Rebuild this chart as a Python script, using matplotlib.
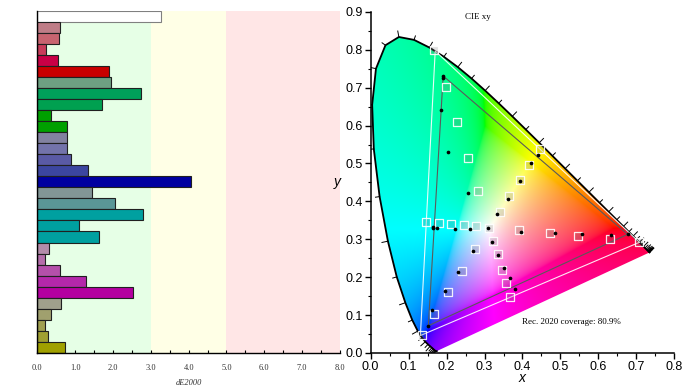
import numpy as np
import matplotlib
matplotlib.use('Agg')
import matplotlib.pyplot as plt
from matplotlib.patches import Polygon
from matplotlib.ticker import MultipleLocator, FormatStrFormatter

# ---------------- data ----------------
bar_values = [3.27, 0.61, 0.57, 0.23, 0.55, 1.89, 1.94, 2.74, 1.71, 0.36, 0.78,
              0.78, 0.79, 0.88, 1.34, 4.05, 1.44, 2.05, 2.79, 1.10, 1.62,
              0.32, 0.20, 0.60, 1.28, 2.53, 0.62, 0.36, 0.20, 0.29, 0.73]
bar_colors = ['#ffffff', '#bf7d87', '#c86470', '#c83c5a', '#c80046', '#c80000',
              '#6ea082', '#00a05a', '#00a050', '#00a000', '#00a000',
              '#8282a0', '#7373aa', '#5a5aa5', '#3c46a0', '#0000a0',
              '#829696', '#5a9696', '#00a0a0', '#00a0a0', '#00a0a0',
              '#b48caa', '#b46eaa', '#b450aa', '#b428aa', '#b400a0',
              '#a0a08c', '#a0a06e', '#a0a050', '#a0a032', '#a0a000']
zone_edges = [0.0, 3.0, 5.0, 8.0]
zone_colors = ['#e6ffe6', '#ffffe6', '#ffe6e6']
de_ticks = [0, 1, 2, 3, 4, 5, 6, 7, 8]

# CIE 1931 2deg spectral locus (5 nm)
wl = list(range(380, 705, 5))
locus_x = [0.1741, 0.1740, 0.1738, 0.1736, 0.1733, 0.1730, 0.1726, 0.1721, 0.1714, 0.1703,
           0.1689, 0.1669, 0.1644, 0.1611, 0.1566, 0.1510, 0.1440, 0.1355, 0.1241, 0.1096,
           0.0913, 0.0687, 0.0454, 0.0235, 0.0082, 0.0039, 0.0139, 0.0389, 0.0743, 0.1142,
           0.1547, 0.1929, 0.2296, 0.2658, 0.3016, 0.3373, 0.3731, 0.4087, 0.4441, 0.4788,
           0.5125, 0.5448, 0.5752, 0.6029, 0.6270, 0.6482, 0.6658, 0.6801, 0.6915, 0.7006,
           0.7079, 0.7140, 0.7190, 0.7230, 0.7260, 0.7283, 0.7300, 0.7311, 0.7320, 0.7327,
           0.7334, 0.7340, 0.7344, 0.7346, 0.7347]
locus_y = [0.0050, 0.0050, 0.0049, 0.0049, 0.0048, 0.0048, 0.0048, 0.0048, 0.0051, 0.0058,
           0.0069, 0.0086, 0.0109, 0.0138, 0.0177, 0.0227, 0.0297, 0.0399, 0.0578, 0.0868,
           0.1327, 0.2007, 0.2950, 0.4127, 0.5384, 0.6548, 0.7502, 0.8120, 0.8338, 0.8262,
           0.8059, 0.7816, 0.7543, 0.7243, 0.6923, 0.6589, 0.6245, 0.5896, 0.5547, 0.5202,
           0.4866, 0.4544, 0.4242, 0.3965, 0.3725, 0.3514, 0.3340, 0.3197, 0.3083, 0.2993,
           0.2920, 0.2859, 0.2809, 0.2770, 0.2740, 0.2717, 0.2700, 0.2689, 0.2680, 0.2673,
           0.2666, 0.2660, 0.2656, 0.2654, 0.2653]

rec2020_x = [0.708, 0.170, 0.131]
rec2020_y = [0.292, 0.797, 0.046]
display_x = [0.677, 0.191, 0.152]
display_y = [0.313, 0.731, 0.072]

target_x = [0.313, 0.391, 0.472, 0.547, 0.631, 0.707, 0.283, 0.256, 0.227, 0.198, 0.166,
            0.276, 0.240, 0.203, 0.167, 0.134, 0.277, 0.247, 0.212, 0.180, 0.146,
            0.323, 0.335, 0.346, 0.357, 0.368, 0.340, 0.364, 0.394, 0.418, 0.446]
target_y = [0.329, 0.324, 0.316, 0.309, 0.301, 0.292, 0.428, 0.515, 0.609, 0.703, 0.799,
            0.274, 0.216, 0.161, 0.103, 0.048, 0.335, 0.337, 0.340, 0.342, 0.346,
            0.296, 0.260, 0.219, 0.185, 0.149, 0.373, 0.414, 0.456, 0.497, 0.539]
meas_x = [0.308, 0.395, 0.486, 0.556, 0.633, 0.677, 0.257, 0.205, 0.185, 0.191, 0.191,
          0.269, 0.230, 0.196, 0.162, 0.152, 0.262, 0.223, 0.176, 0.165, 0.163,
          0.320, 0.336, 0.352, 0.366, 0.380, 0.334, 0.361, 0.393, 0.423, 0.441]
meas_y = [0.331, 0.320, 0.316, 0.313, 0.311, 0.313, 0.421, 0.530, 0.640, 0.725, 0.731,
          0.270, 0.215, 0.164, 0.113, 0.072, 0.326, 0.328, 0.329, 0.330, 0.333,
          0.294, 0.259, 0.225, 0.197, 0.170, 0.367, 0.406, 0.455, 0.500, 0.522]

# ---------------- figure ----------------
fig = plt.figure(figsize=(6.93, 3.90), dpi=100)
serif = ['Liberation Serif', 'DejaVu Serif']
sans = ['Liberation Sans', 'DejaVu Sans']

# ----- left: dE2000 bars -----
axl = fig.add_axes([0.0538, 0.0956, 0.4368, 0.8760])
n = len(bar_values)
for i in range(3):
    axl.axvspan(zone_edges[i], zone_edges[i + 1], color=zone_colors[i], lw=0, zorder=0)
ypos = np.arange(n)
edgec = ['#808080'] + ['#202020'] * (n - 1)
axl.barh(ypos, bar_values, height=1.0, color=bar_colors, edgecolor=edgec,
         linewidth=0.8, zorder=2)
axl.set_xlim(0, 8)
axl.set_ylim(n - 0.5, -0.5)
axl.set_yticks([])
axl.set_xticks(de_ticks)
axl.xaxis.set_major_formatter(FormatStrFormatter('%.1f'))
axl.xaxis.set_minor_locator(MultipleLocator(0.5))
axl.tick_params(axis='x', which='both', direction='in', length=2.5, width=0.8,
                labelsize=6, labelcolor='#333333', pad=8)
for lab in axl.get_xticklabels():
    lab.set_family(serif)
axl.spines['top'].set_visible(False)
axl.spines['right'].set_visible(False)
axl.spines['left'].set_linewidth(1.0)
axl.spines['bottom'].set_linewidth(1.0)
axl.set_xlabel('dE2000', family=serif, style='italic', fontsize=6, color='#333333',
               labelpad=5)

# ----- right: CIE xy -----
axr = fig.add_axes([0.5349, 0.0949, 0.4381, 0.8746])
axr.set_xlim(0, 0.8)
axr.set_ylim(0, 0.9)

# colour fill
nx, ny = 640, 720
gx = np.linspace(0, 0.8, nx)
gy = np.linspace(0.0005, 0.9, ny)
X, Y = np.meshgrid(gx, gy)
XX = X / Y
YY = np.ones_like(X)
ZZ = (1 - X - Y) / Y
M = np.array([[3.2406, -1.5372, -0.4986],
              [-0.9689, 1.8758, 0.0415],
              [0.0557, -0.2040, 1.0570]])
rgb = np.stack([XX, YY, ZZ], axis=-1) @ M.T
mn = np.minimum(rgb.min(axis=-1, keepdims=True), 0)
rgb = rgb - mn
mx = rgb.max(axis=-1, keepdims=True)
mx[mx == 0] = 1
rgb = rgb / mx
rgb = np.where(rgb <= 0.0031308, 12.92 * rgb, 1.055 * np.power(rgb, 1 / 2.4) - 0.055)
rgb = np.clip(rgb, 0, 1)
im = axr.imshow(rgb, origin='lower', extent=[0, 0.8, 0.0005, 0.9], aspect='auto',
                interpolation='bilinear', zorder=1)
poly = Polygon(np.column_stack([locus_x, locus_y]), closed=True, transform=axr.transData,
               facecolor='none', edgecolor='none')
axr.add_patch(poly)
im.set_clip_path(poly)

# locus outline (no purple line)
axr.plot(locus_x, locus_y, color='black', lw=1.3, zorder=3, solid_joinstyle='round')

# wavelength ticks
lx = np.array(locus_x)
ly = np.array(locus_y)
for i, w in enumerate(wl):
    if w < 420:
        continue
    i0 = max(i - 1, 0)
    i1 = min(i + 1, len(wl) - 1)
    tx, ty = lx[i1] - lx[i0], ly[i1] - ly[i0]
    L = np.hypot(tx, ty)
    if L == 0:
        continue
    nxv, nyv = ty / L, -tx / L
    if (lx[i] - 0.33) * nxv + (ly[i] - 0.33) * nyv < 0:
        nxv, nyv = -nxv, -nyv
    ln = 0.016 if w % 10 == 0 else 0.011
    axr.plot([lx[i], lx[i] + ln * nxv], [ly[i], ly[i] + ln * nyv], color='black',
             lw=0.7, zorder=3)

# gamuts
axr.plot(rec2020_x + rec2020_x[:1], rec2020_y + rec2020_y[:1], color='white', lw=0.8,
         alpha=0.9, zorder=4)
axr.plot(display_x + display_x[:1], display_y + display_y[:1], color='#5a5a5a', lw=0.8,
         zorder=4)

# targets & measurements
axr.scatter(target_x, target_y, marker='s', s=28, facecolors=(0.45, 0.45, 0.45, 0.22),
            edgecolors=(1, 1, 1, 0.9), linewidths=0.9, zorder=5)
axr.scatter(meas_x, meas_y, marker='o', s=7, color='black', linewidths=0, zorder=6)

axr.xaxis.set_major_locator(MultipleLocator(0.1))
axr.yaxis.set_major_locator(MultipleLocator(0.1))
axr.xaxis.set_minor_locator(MultipleLocator(0.05))
axr.yaxis.set_minor_locator(MultipleLocator(0.05))
axr.xaxis.set_major_formatter(FormatStrFormatter('%.1f'))
axr.yaxis.set_major_formatter(FormatStrFormatter('%.1f'))
axr.tick_params(which='major', direction='out', length=4, width=1.0, labelsize=9, pad=1.5)
axr.tick_params(which='minor', direction='out', length=2.5, width=0.8)
for lab in axr.get_xticklabels() + axr.get_yticklabels():
    lab.set_family(sans)
axr.spines['top'].set_visible(False)
axr.spines['right'].set_visible(False)
axr.spines['left'].set_linewidth(1.1)
axr.spines['bottom'].set_linewidth(1.1)
axr.set_xlabel('x', family=sans, style='italic', fontsize=10, labelpad=-1)
axr.set_ylabel('y', family=sans, style='italic', fontsize=10, rotation=0, labelpad=6,
               va='center')
axr.text(0.353, 0.985, 'CIE xy', transform=axr.transAxes, family=serif, fontsize=6.5,
         ha='center', va='center')
axr.text(0.662, 0.09, 'Rec. 2020 coverage: 80.9%', transform=axr.transAxes, family=serif,
         fontsize=6.5, ha='center', va='center')

fig.savefig('out.png', dpi=100)
